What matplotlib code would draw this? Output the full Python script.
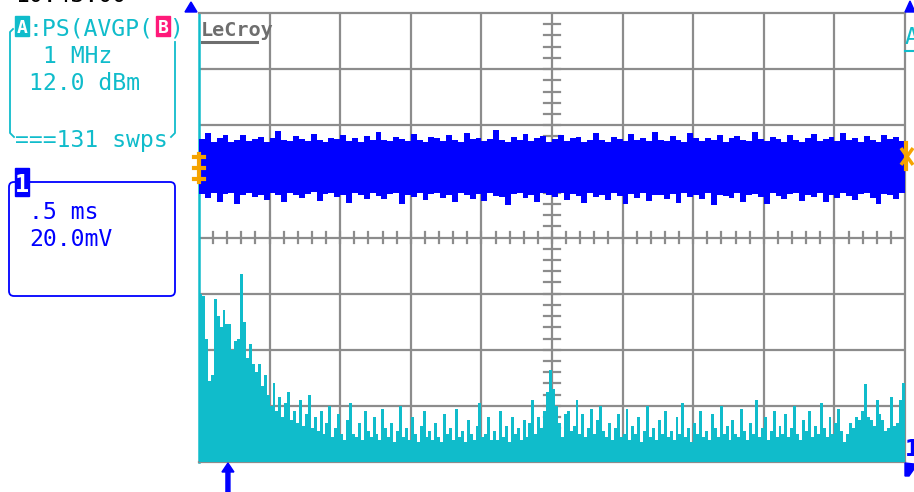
import numpy as np
import matplotlib.pyplot as plt
from matplotlib.patches import FancyBboxPatch, Rectangle, Polygon

# channel 1: noise band envelope, mV around the channel offset
trace_hi = [
    10.5, 12.8, 9.6, 10.9, 11.8, 9.4, 10.2, 12.1, 9.8, 10.6, 11.2, 9.5, 10.8, 13.2, 10.1, 9.7, 11.5, 10.4, 9.9, 12.4,
    10.3, 9.6, 11.0, 10.5, 12.0, 9.8, 10.7, 9.5, 11.4, 10.2, 13.0, 10.0, 9.7, 11.1, 10.6, 9.9, 12.2, 10.3, 9.6, 11.3,
    10.8, 9.7, 11.9, 10.1, 9.5, 12.6, 10.4, 11.0, 9.8, 10.6, 13.8, 10.2, 9.6, 11.2, 10.0, 12.3, 9.9, 10.7, 11.6, 9.4,
    10.5, 12.0, 9.8, 10.9, 11.3, 9.6, 10.2, 12.7, 10.0, 9.5, 11.1, 10.6, 9.8, 12.2, 10.3, 11.0, 9.7, 13.1, 10.1, 9.9,
    11.4, 10.2, 9.6, 12.5, 10.7, 9.9, 11.0, 10.3, 12.0, 9.5, 10.8, 11.6, 10.0, 9.7, 12.9, 10.4, 9.8, 11.2, 10.5, 9.6,
    11.8, 10.1, 9.5, 10.9, 12.3, 9.8, 10.4, 11.1, 9.7, 12.6, 10.2, 10.8, 9.6, 11.5, 10.0, 9.4, 12.0, 10.6, 11.3, 9.9,
]
trace_lo = [
    -9.0, -10.4, -8.6, -11.8, -9.2, -8.8, -12.6, -9.5, -8.7, -10.1, -9.3, -11.2, -8.9, -9.6, -12.0, -8.8, -9.4, -10.6, -9.0, -8.5,
    -11.5, -9.1, -8.7, -10.2, -9.6, -12.3, -8.9, -9.3, -10.8, -8.6, -9.7, -11.0, -9.2, -8.8, -12.8, -9.4, -10.0, -8.7, -11.4, -9.1,
    -8.9, -10.5, -9.3, -12.1, -8.7, -9.5, -10.9, -9.0, -11.6, -8.8, -9.7, -10.3, -13.0, -9.1, -8.6, -10.7, -9.4, -11.9, -8.9, -9.6,
    -10.2, -8.8, -11.3, -9.2, -9.7, -12.4, -8.9, -10.0, -9.4, -11.1, -8.7, -9.8, -12.7, -9.0, -10.5, -8.8, -11.7, -9.3, -9.6, -10.8,
    -9.1, -12.2, -8.8, -10.1, -9.5, -11.0, -8.7, -13.1, -9.3, -9.9, -10.6, -8.9, -11.8, -9.4, -9.0, -10.3, -12.5, -8.8, -9.7, -10.9,
    -9.2, -8.7, -11.5, -9.6, -10.2, -8.9, -12.0, -9.3, -10.7, -8.8, -9.9, -11.3, -9.1, -8.6, -10.4, -12.6, -9.0, -9.5, -11.0, -8.9,
]

# trace A: averaged power spectrum, divisions above the bottom line (0..10 MHz)
spectrum = [
    3.0, 2.95, 2.2, 1.45, 1.55, 2.9, 2.6, 2.4, 2.7, 2.45, 2.45, 2.0, 2.15, 2.2, 3.35, 2.5, 1.85, 2.1, 1.75, 1.6,
    1.75, 1.35, 1.55, 1.2, 1.0, 1.4, 0.9, 1.15, 0.8, 1.05, 1.25, 0.75, 0.9, 0.7, 1.1, 0.65, 0.85, 1.2, 0.6, 0.8,
    0.55, 0.9, 0.5, 0.7, 1.0, 0.45, 0.6, 0.85, 0.5, 0.4, 0.75, 1.05, 0.5, 0.45, 0.7, 0.4, 0.9, 0.55, 0.45, 0.8,
    0.5, 0.4, 0.95, 0.6, 0.45, 0.7, 0.35, 0.55, 1.0, 0.45, 0.6, 0.4, 0.8, 0.5, 0.35, 0.65, 0.9, 0.45, 0.55, 0.4,
    0.7, 0.45, 0.35, 0.85, 0.5, 0.6, 0.4, 0.95, 0.45, 0.55, 0.35, 0.75, 0.5, 0.4, 0.65, 1.05, 0.45, 0.5, 0.8, 0.4,
    0.55, 0.4, 0.9, 0.45, 0.65, 0.35, 0.8, 0.5, 0.6, 0.4, 0.75, 0.45, 0.7, 1.1, 0.5, 0.8, 0.6, 0.9, 1.25, 1.64,
    1.3, 1.0, 0.7, 0.45, 0.85, 0.9, 0.55, 0.65, 1.1, 0.5, 0.85, 0.45, 0.6, 0.95, 0.5, 0.75, 1.0, 0.55, 0.45, 0.7,
    0.4, 0.6, 0.85, 0.45, 0.5, 0.95, 0.4, 0.65, 0.5, 0.8, 0.35, 0.55, 1.0, 0.45, 0.6, 0.4, 0.75, 0.5, 0.9, 0.45,
    0.55, 0.4, 0.8, 0.5, 1.05, 0.45, 0.6, 0.35, 0.7, 0.5, 0.9, 0.45, 0.55, 0.4, 0.85, 0.6, 0.45, 1.0, 0.5, 0.65,
    0.4, 0.75, 0.5, 0.45, 0.95, 0.55, 0.4, 0.7, 0.5, 1.1, 0.45, 0.6, 0.8, 0.4, 0.55, 0.9, 0.45, 0.65, 0.5, 0.85,
    0.45, 0.6, 1.0, 0.5, 0.4, 0.75, 0.55, 0.9, 0.45, 0.65, 0.5, 1.05, 0.6, 0.45, 0.8, 0.5, 0.7, 0.95, 0.55, 0.35,
    0.5, 0.7, 0.6, 0.8, 0.75, 0.9, 1.39, 0.8, 0.75, 0.65, 1.1, 0.85, 0.75, 0.55, 0.6, 1.15, 0.65, 0.7, 1.1, 1.4,
]

mv_per_div = 20.0
offset_div = 5.23       # channel 1 ground marker, divisions from bottom
cursor_mhz = 0.41

BLUE = '#0000ff'
CYAN = '#10bccb'
GRID = '#8c8c8c'
ORANGE = '#f5a300'
MONO = 'DejaVu Sans Mono'

fig = plt.figure(figsize=(9.14, 4.92), dpi=100)
fig.patch.set_facecolor('white')

# graticule: 10 x 8 divisions
ax = fig.add_axes([199 / 914, 30 / 492, 706 / 914, 449 / 492])
ax.set_xlim(0, 10)
ax.set_ylim(0, 8)
ax.set_xticks([])
ax.set_yticks([])
for s in ['top', 'right', 'bottom']:
    ax.spines[s].set_color(GRID)
    ax.spines[s].set_linewidth(1.6)
ax.spines['left'].set_color(CYAN)
ax.spines['left'].set_linewidth(1.8)

for x in range(1, 10):
    ax.axvline(x, color=GRID, lw=1.6, zorder=1)
for y in range(1, 8):
    ax.axhline(y, color=GRID, lw=1.6, zorder=1)

# minor ticks along the centre cross
for x in np.arange(0.2, 10, 0.2):
    ax.plot([x, x], [4 - 0.09, 4 + 0.09], color=GRID, lw=1.6, zorder=1)
for y in np.arange(0.2, 8, 0.2):
    ax.plot([5 - 0.12, 5 + 0.12], [y, y], color=GRID, lw=1.6, zorder=1)


def steps(values, span):
    edges = np.linspace(0, span, len(values) + 1)
    xs = np.repeat(edges, 2)[1:-1]
    ys = np.repeat(np.asarray(values, dtype=float), 2)
    return xs, ys


# channel 1 trace (0.5 ms/div)
xs, hi = steps(trace_hi, 10)
_, lo = steps(trace_lo, 10)
ax.fill_between(xs, offset_div + lo / mv_per_div, offset_div + hi / mv_per_div,
                color=BLUE, lw=0, zorder=3)

# spectrum (1 MHz/div)
xs, sp = steps(spectrum, 10)
ax.fill_between(xs, 0, sp, color=CYAN, lw=0, zorder=3)

# overlay in pixel units for the screen annotations
ov = fig.add_axes([0, 0, 1, 1])
ov.set_xlim(0, 914)
ov.set_ylim(492, 0)
ov.axis('off')
ov.patch.set_visible(False)

fs = 16.7
ov.text(15, 2, '10:43:00', family=MONO, fontsize=fs, color='black', va='baseline')

# trace A descriptor
ov.add_patch(Rectangle((15, 16), 14, 20, color=CYAN))
ov.text(22, 33, 'A', family=MONO, fontsize=13, color='white', ha='center', va='baseline', weight='bold')
ov.text(29, 35, ':PS(AVGP(', family=MONO, fontsize=fs, color=CYAN, va='baseline')
ov.add_patch(Rectangle((156, 16), 14, 20, color='#ff1a7a'))
ov.text(163, 33, 'B', family=MONO, fontsize=13, color='white', ha='center', va='baseline', weight='bold')
ov.text(169, 35, ')', family=MONO, fontsize=fs, color=CYAN, va='baseline')
ov.text(43, 63, '1 MHz', family=MONO, fontsize=fs, color=CYAN, va='baseline')
ov.text(29, 90, '12.0 dBm', family=MONO, fontsize=fs, color=CYAN, va='baseline')
ov.text(15, 147, '===131 swps', family=MONO, fontsize=fs, color=CYAN, va='baseline')
ov.plot([13, 10, 10, 10, 14], [29, 32, 40, 133, 137], color=CYAN, lw=1.3)
ov.plot([175, 175, 171], [42, 133, 137], color=CYAN, lw=1.3)

# channel 1 descriptor
ov.add_patch(FancyBboxPatch((9, 182), 166, 114, boxstyle='round,pad=0,rounding_size=5',
                            fc='none', ec=BLUE, lw=1.3))
ov.add_patch(Rectangle((15, 168), 14, 28, color=BLUE))
ov.text(22, 192, '1', family=MONO, fontsize=17, color='white', ha='center', va='baseline', weight='bold')
ov.text(29, 219, '.5 ms', family=MONO, fontsize=fs, color=BLUE, va='baseline')
ov.text(29, 246, '20.0mV', family=MONO, fontsize=fs, color=BLUE, va='baseline')

# logo
ov.text(201, 36, 'LeCroy', family=MONO, fontsize=14.5, color='#6e6e6e', va='baseline', weight='bold')
ov.plot([202, 257], [42, 42], color='#6e6e6e', lw=2.2)

# edge markers
ov.add_patch(Polygon([(185, 12), (191, 2), (197, 12)], color=BLUE))
ov.add_patch(Polygon([(905, 12), (910, 1), (915, 12)], color=BLUE))
ov.text(905, 44, 'A', family=MONO, fontsize=fs, color=CYAN, va='baseline')
ov.plot([905, 914], [51, 51], color=CYAN, lw=1.5)
ov.text(905, 456, '1', family=MONO, fontsize=fs, color=BLUE, va='baseline', weight='bold')
ov.add_patch(Polygon([(905, 463), (914, 464), (914, 469), (909, 476), (905, 476)], color=BLUE))

# ground markers of channel 1
gy = 462 - offset_div * 449 / 8
ov.plot([199, 199], [gy - 14, gy + 14], color=ORANGE, lw=3)
for dy in (-11, 0, 11):
    ov.plot([194, 204], [gy + dy, gy + dy], color=ORANGE, lw=3)
ty = gy - 12
ov.plot([906, 906], [ty - 13, ty + 13], color=ORANGE, lw=3)
ov.plot([902, 912], [ty - 7, ty + 7], color=ORANGE, lw=2.5)
ov.plot([902, 912], [ty + 7, ty - 7], color=ORANGE, lw=2.5)

# cursor arrow under the spectrum
cx = 199 + cursor_mhz * 706 / 10
ov.add_patch(Polygon([(cx - 6, 472), (cx, 463), (cx + 6, 472), (cx + 2, 472), (cx + 2, 492),
                      (cx - 2, 492), (cx - 2, 472)], color=BLUE))

plt.savefig('out.png', dpi=100)
